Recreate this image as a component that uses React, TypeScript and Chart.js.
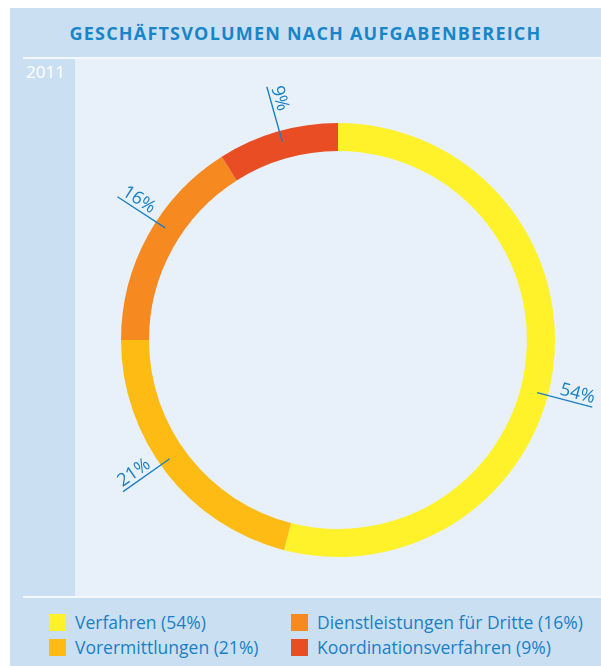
import React, { useEffect, useRef } from "react";
import { Chart, registerables } from "chart.js";

Chart.register(...registerables);

const title = "GESCHÄFTSVOLUMEN NACH AUFGABENBEREICH";
const yearLabel = "2011";
const categories = ["Verfahren", "Vorermittlungen", "Dienstleistungen für Dritte", "Koordinationsverfahren"];
const shares = [54, 21, 16, 9];
const colors = ["#fff12a", "#fdbb14", "#f6891f", "#e84d24"];
// small angular nudges (degrees, clockwise) for the percentage callouts
const labelNudge = [7.6, 2.6, 4.2, 0.5];

const BLUE = "#1a80c6";
const FONT = '"Open Sans", "DejaVu Sans", sans-serif';

const calloutPlugin = {
  id: "callouts",
  afterDatasetsDraw(chart: any) {
    const meta = chart.getDatasetMeta(0);
    const ctx = chart.ctx;
    ctx.save();
    meta.data.forEach((arc: any, i: number) => {
      const p = arc.getProps(["x", "y", "startAngle", "endAngle", "outerRadius"], true);
      const mid = (p.startAngle + p.endAngle) / 2 + (labelNudge[i] * Math.PI) / 180;
      const dx = Math.cos(mid);
      const dy = Math.sin(mid);
      const r0 = p.outerRadius - 11;
      const r1 = p.outerRadius + 46;
      const x0 = p.x + dx * r0, y0 = p.y + dy * r0;
      const x1 = p.x + dx * r1, y1 = p.y + dy * r1;
      ctx.strokeStyle = BLUE;
      ctx.lineWidth = 1.4;
      ctx.beginPath();
      ctx.moveTo(x0, y0);
      ctx.lineTo(x1, y1);
      ctx.stroke();
      const right = dx > 0;
      const rot = right ? Math.atan2(dy, dx) : Math.atan2(-dy, -dx);
      ctx.save();
      ctx.translate(x1, y1);
      ctx.rotate(rot);
      ctx.fillStyle = BLUE;
      ctx.font = `18px ${FONT}`;
      ctx.textBaseline = "alphabetic";
      ctx.textAlign = right ? "right" : "left";
      ctx.fillText(`${shares[i]}%`, right ? 0 : 2, -4);
      ctx.restore();
    });
    ctx.restore();
  },
};

function Donut() {
  const ref = useRef<HTMLCanvasElement>(null);
  useEffect(() => {
    const chart = new Chart(ref.current as HTMLCanvasElement, {
      type: "doughnut",
      data: {
        labels: categories,
        datasets: [
          {
            data: shares,
            backgroundColor: colors,
            borderWidth: 0,
          },
        ],
      },
      options: {
        animation: false,
        responsive: false,
        radius: 217,
        cutout: "87.1%",
        layout: { padding: { top: 24 } },
        plugins: { legend: { display: false }, tooltip: { enabled: false } },
      },
      plugins: [calloutPlugin],
    } as any);
    return () => chart.destroy();
  }, []);
  return <canvas ref={ref} width={526} height={536} style={{ position: "absolute", left: 75, top: 60, width: 526, height: 536 }} />;
}

export default function App() {
  return (
    <div style={{ position: "absolute", left: 0, top: 0, width: 601, height: 666, overflow: "hidden", fontFamily: FONT }}>
      <div style={{ position: "absolute", left: 10, top: 8, width: 591, height: 658, background: "#cbdff2" }} />
      <div
        style={{
          position: "absolute",
          left: 10,
          top: 21,
          width: 591,
          textAlign: "center",
          color: "#1786c9",
          fontWeight: 700,
          fontSize: 18,
          letterSpacing: 1.2,
          lineHeight: "24px",
        }}
      >
        {title}
      </div>
      <div style={{ position: "absolute", left: 23, top: 57, width: 578, height: 2, background: "#f3f8fc" }} />
      <div style={{ position: "absolute", left: 75, top: 59, width: 526, height: 537, background: "#e8f1f9" }} />
      <div style={{ position: "absolute", left: 26, top: 61, color: "#ffffff", fontSize: 17, lineHeight: "22px" }}>{yearLabel}</div>
      <div style={{ position: "absolute", left: 23, top: 596, width: 578, height: 2, background: "#f3f8fc" }} />
      <Donut />
      {categories.map((name, k) => {
        const col = Math.floor(k / 2);
        const row = k % 2;
        return (
          <div key={name} style={{ position: "absolute", left: col === 0 ? 49 : 291, top: 611 + row * 25, display: "flex", alignItems: "center" }}>
            <div style={{ width: 17, height: 17, background: colors[k], marginRight: 9 }} />
            <span style={{ color: BLUE, fontSize: 17.5, lineHeight: "22px" }}>
              {name} ({shares[k]}%)
            </span>
          </div>
        );
      })}
    </div>
  );
}
